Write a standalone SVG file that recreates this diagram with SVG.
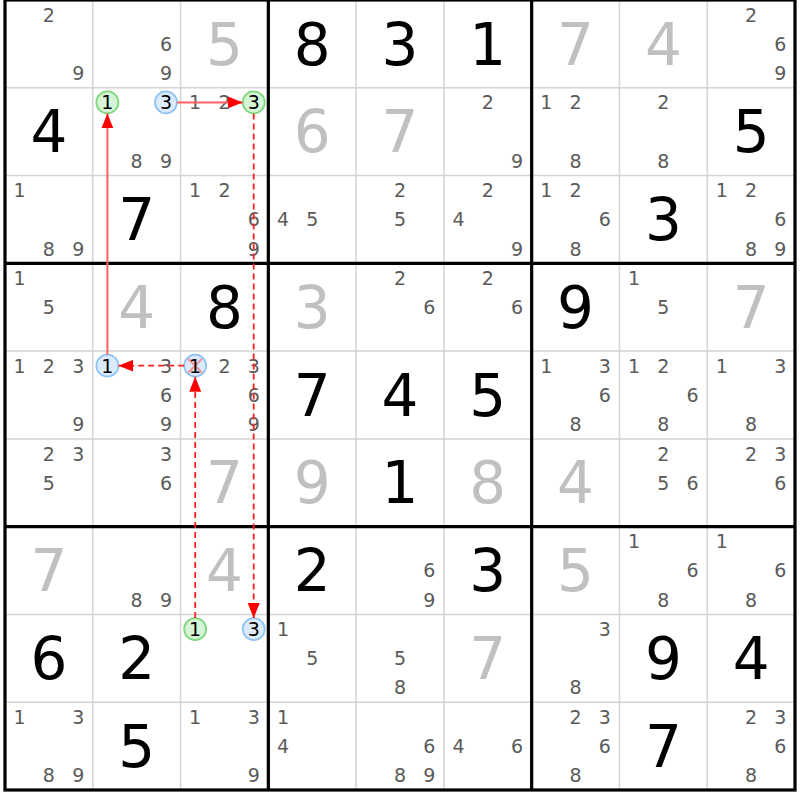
<svg xmlns="http://www.w3.org/2000/svg" width="800" height="800" viewBox="0 0 800 800">
<style>
text{font-family:"DejaVu Sans","Liberation Sans",sans-serif;text-anchor:middle}
.c{font-size:19px;fill:#5a5a5a}
.k{font-size:19px;fill:#000}
.g{font-size:58px;fill:#000}
.s{font-size:58px;fill:#c0c0c0}
.thin{stroke:#d4d4d4;stroke-width:1.5}
.thick{stroke:#000;stroke-width:3.2;fill:none}
.cg{fill:#d6f5d6;stroke:#80d880;stroke-width:1.8}
.cb{fill:#dcebfc;stroke:#90c4f4;stroke-width:1.8}
.x{stroke:#ff7070;stroke-width:2;stroke-opacity:0.7}
.ln{stroke:#ff6060;stroke-width:2;fill:none}
.dl{stroke:#ff2020;stroke-width:1.8;fill:none;stroke-dasharray:6,4}
</style>
<defs>
<marker id="ah" markerUnits="userSpaceOnUse" markerWidth="15" markerHeight="12" refX="15" refY="6" orient="auto">
<path d="M0,0 L15,6 L0,12 z" fill="#ff0000"/>
</marker>
</defs>
<rect x="0" y="0" width="800" height="800" fill="#fff"/>
<g id="grid">
<path class="thin" d="M92.78,0V790M180.56,0V790M356.11,0V790M443.89,0V790M619.44,0V790M707.22,0V790M5,87.78H795M5,175.56H795M5,351.11H795M5,438.89H795M5,614.44H795M5,702.22H795"/>
<path class="thick" d="M268.33,0V790M531.67,0V790M5,263.33H795M5,526.67H795"/>
<rect class="thick" x="5" y="0" width="790" height="790"/>
</g>
<g id="cells">
<g id="r1c1" transform="translate(5,0)"><text class="c" x="43.9" y="21.7">2</text><text class="c" x="73.2" y="80">9</text></g>
<g id="r1c2" transform="translate(92.78,0)"><text class="c" x="73.2" y="50.8">6</text><text class="c" x="73.2" y="80">9</text></g>
<g id="r1c3" transform="translate(180.56,0)"><text class="s" x="43.9" y="64.5">5</text></g>
<g id="r1c4" transform="translate(268.33,0)"><text class="g" x="43.9" y="64.5">8</text></g>
<g id="r1c5" transform="translate(356.11,0)"><text class="g" x="43.9" y="64.5">3</text></g>
<g id="r1c6" transform="translate(443.89,0)"><text class="g" x="43.9" y="64.5">1</text></g>
<g id="r1c7" transform="translate(531.67,0)"><text class="s" x="43.9" y="64.5">7</text></g>
<g id="r1c8" transform="translate(619.44,0)"><text class="s" x="43.9" y="64.5">4</text></g>
<g id="r1c9" transform="translate(707.22,0)"><text class="c" x="43.9" y="21.7">2</text><text class="c" x="73.2" y="50.8">6</text><text class="c" x="73.2" y="80">9</text></g>

<g id="r2c1" transform="translate(5,87.78)"><text class="g" x="43.9" y="64.5">4</text></g>
<g id="r2c2" transform="translate(92.78,87.78)"><circle class="cg" cx="14.6" cy="14.6" r="11"/><text class="k" x="14.6" y="21.4">1</text><circle class="cb" cx="73.2" cy="14.6" r="11"/><text class="k" x="73.2" y="21.4">3</text><text class="c" x="43.9" y="80">8</text><text class="c" x="73.2" y="80">9</text></g>
<g id="r2c3" transform="translate(180.56,87.78)"><text class="c" x="14.6" y="21.7">1</text><text class="c" x="43.9" y="21.7">2</text><circle class="cg" cx="73.2" cy="14.6" r="11"/><text class="k" x="73.2" y="21.4">3</text></g>
<g id="r2c4" transform="translate(268.33,87.78)"><text class="s" x="43.9" y="64.5">6</text></g>
<g id="r2c5" transform="translate(356.11,87.78)"><text class="s" x="43.9" y="64.5">7</text></g>
<g id="r2c6" transform="translate(443.89,87.78)"><text class="c" x="43.9" y="21.7">2</text><text class="c" x="73.2" y="80">9</text></g>
<g id="r2c7" transform="translate(531.67,87.78)"><text class="c" x="14.6" y="21.7">1</text><text class="c" x="43.9" y="21.7">2</text><text class="c" x="43.9" y="80">8</text></g>
<g id="r2c8" transform="translate(619.44,87.78)"><text class="c" x="43.9" y="21.7">2</text><text class="c" x="43.9" y="80">8</text></g>
<g id="r2c9" transform="translate(707.22,87.78)"><text class="g" x="43.9" y="64.5">5</text></g>

<g id="r3c1" transform="translate(5,175.56)"><text class="c" x="14.6" y="21.7">1</text><text class="c" x="43.9" y="80">8</text><text class="c" x="73.2" y="80">9</text></g>
<g id="r3c2" transform="translate(92.78,175.56)"><text class="g" x="43.9" y="64.5">7</text></g>
<g id="r3c3" transform="translate(180.56,175.56)"><text class="c" x="14.6" y="21.7">1</text><text class="c" x="43.9" y="21.7">2</text><text class="c" x="73.2" y="50.8">6</text><text class="c" x="73.2" y="80">9</text></g>
<g id="r3c4" transform="translate(268.33,175.56)"><text class="c" x="14.6" y="50.8">4</text><text class="c" x="43.9" y="50.8">5</text></g>
<g id="r3c5" transform="translate(356.11,175.56)"><text class="c" x="43.9" y="21.7">2</text><text class="c" x="43.9" y="50.8">5</text></g>
<g id="r3c6" transform="translate(443.89,175.56)"><text class="c" x="43.9" y="21.7">2</text><text class="c" x="14.6" y="50.8">4</text><text class="c" x="73.2" y="80">9</text></g>
<g id="r3c7" transform="translate(531.67,175.56)"><text class="c" x="14.6" y="21.7">1</text><text class="c" x="43.9" y="21.7">2</text><text class="c" x="73.2" y="50.8">6</text><text class="c" x="43.9" y="80">8</text></g>
<g id="r3c8" transform="translate(619.44,175.56)"><text class="g" x="43.9" y="64.5">3</text></g>
<g id="r3c9" transform="translate(707.22,175.56)"><text class="c" x="14.6" y="21.7">1</text><text class="c" x="43.9" y="21.7">2</text><text class="c" x="73.2" y="50.8">6</text><text class="c" x="43.9" y="80">8</text><text class="c" x="73.2" y="80">9</text></g>

<g id="r4c1" transform="translate(5,263.33)"><text class="c" x="14.6" y="21.7">1</text><text class="c" x="43.9" y="50.8">5</text></g>
<g id="r4c2" transform="translate(92.78,263.33)"><text class="s" x="43.9" y="64.5">4</text></g>
<g id="r4c3" transform="translate(180.56,263.33)"><text class="g" x="43.9" y="64.5">8</text></g>
<g id="r4c4" transform="translate(268.33,263.33)"><text class="s" x="43.9" y="64.5">3</text></g>
<g id="r4c5" transform="translate(356.11,263.33)"><text class="c" x="43.9" y="21.7">2</text><text class="c" x="73.2" y="50.8">6</text></g>
<g id="r4c6" transform="translate(443.89,263.33)"><text class="c" x="43.9" y="21.7">2</text><text class="c" x="73.2" y="50.8">6</text></g>
<g id="r4c7" transform="translate(531.67,263.33)"><text class="g" x="43.9" y="64.5">9</text></g>
<g id="r4c8" transform="translate(619.44,263.33)"><text class="c" x="14.6" y="21.7">1</text><text class="c" x="43.9" y="50.8">5</text></g>
<g id="r4c9" transform="translate(707.22,263.33)"><text class="s" x="43.9" y="64.5">7</text></g>

<g id="r5c1" transform="translate(5,351.11)"><text class="c" x="14.6" y="21.7">1</text><text class="c" x="43.9" y="21.7">2</text><text class="c" x="73.2" y="21.7">3</text><text class="c" x="73.2" y="80">9</text></g>
<g id="r5c2" transform="translate(92.78,351.11)"><circle class="cb" cx="14.6" cy="14.6" r="11"/><text class="k" x="14.6" y="21.4">1</text><text class="c" x="73.2" y="21.7">3</text><text class="c" x="73.2" y="50.8">6</text><text class="c" x="73.2" y="80">9</text></g>
<g id="r5c3" transform="translate(180.56,351.11)"><circle class="cb" cx="14.6" cy="14.6" r="11"/><path class="x" d="M7.6,7.6L21.6,21.6M21.6,7.6L7.6,21.6"/><text class="k" x="14.6" y="21.4">1</text><text class="c" x="43.9" y="21.7">2</text><text class="c" x="73.2" y="21.7">3</text><text class="c" x="73.2" y="50.8">6</text><text class="c" x="73.2" y="80">9</text></g>
<g id="r5c4" transform="translate(268.33,351.11)"><text class="g" x="43.9" y="64.5">7</text></g>
<g id="r5c5" transform="translate(356.11,351.11)"><text class="g" x="43.9" y="64.5">4</text></g>
<g id="r5c6" transform="translate(443.89,351.11)"><text class="g" x="43.9" y="64.5">5</text></g>
<g id="r5c7" transform="translate(531.67,351.11)"><text class="c" x="14.6" y="21.7">1</text><text class="c" x="73.2" y="21.7">3</text><text class="c" x="73.2" y="50.8">6</text><text class="c" x="43.9" y="80">8</text></g>
<g id="r5c8" transform="translate(619.44,351.11)"><text class="c" x="14.6" y="21.7">1</text><text class="c" x="43.9" y="21.7">2</text><text class="c" x="73.2" y="50.8">6</text><text class="c" x="43.9" y="80">8</text></g>
<g id="r5c9" transform="translate(707.22,351.11)"><text class="c" x="14.6" y="21.7">1</text><text class="c" x="73.2" y="21.7">3</text><text class="c" x="43.9" y="80">8</text></g>

<g id="r6c1" transform="translate(5,438.89)"><text class="c" x="43.9" y="21.7">2</text><text class="c" x="73.2" y="21.7">3</text><text class="c" x="43.9" y="50.8">5</text></g>
<g id="r6c2" transform="translate(92.78,438.89)"><text class="c" x="73.2" y="21.7">3</text><text class="c" x="73.2" y="50.8">6</text></g>
<g id="r6c3" transform="translate(180.56,438.89)"><text class="s" x="43.9" y="64.5">7</text></g>
<g id="r6c4" transform="translate(268.33,438.89)"><text class="s" x="43.9" y="64.5">9</text></g>
<g id="r6c5" transform="translate(356.11,438.89)"><text class="g" x="43.9" y="64.5">1</text></g>
<g id="r6c6" transform="translate(443.89,438.89)"><text class="s" x="43.9" y="64.5">8</text></g>
<g id="r6c7" transform="translate(531.67,438.89)"><text class="s" x="43.9" y="64.5">4</text></g>
<g id="r6c8" transform="translate(619.44,438.89)"><text class="c" x="43.9" y="21.7">2</text><text class="c" x="43.9" y="50.8">5</text><text class="c" x="73.2" y="50.8">6</text></g>
<g id="r6c9" transform="translate(707.22,438.89)"><text class="c" x="43.9" y="21.7">2</text><text class="c" x="73.2" y="21.7">3</text><text class="c" x="73.2" y="50.8">6</text></g>

<g id="r7c1" transform="translate(5,526.67)"><text class="s" x="43.9" y="64.5">7</text></g>
<g id="r7c2" transform="translate(92.78,526.67)"><text class="c" x="43.9" y="80">8</text><text class="c" x="73.2" y="80">9</text></g>
<g id="r7c3" transform="translate(180.56,526.67)"><text class="s" x="43.9" y="64.5">4</text></g>
<g id="r7c4" transform="translate(268.33,526.67)"><text class="g" x="43.9" y="64.5">2</text></g>
<g id="r7c5" transform="translate(356.11,526.67)"><text class="c" x="73.2" y="50.8">6</text><text class="c" x="73.2" y="80">9</text></g>
<g id="r7c6" transform="translate(443.89,526.67)"><text class="g" x="43.9" y="64.5">3</text></g>
<g id="r7c7" transform="translate(531.67,526.67)"><text class="s" x="43.9" y="64.5">5</text></g>
<g id="r7c8" transform="translate(619.44,526.67)"><text class="c" x="14.6" y="21.7">1</text><text class="c" x="73.2" y="50.8">6</text><text class="c" x="43.9" y="80">8</text></g>
<g id="r7c9" transform="translate(707.22,526.67)"><text class="c" x="14.6" y="21.7">1</text><text class="c" x="73.2" y="50.8">6</text><text class="c" x="43.9" y="80">8</text></g>

<g id="r8c1" transform="translate(5,614.44)"><text class="g" x="43.9" y="64.5">6</text></g>
<g id="r8c2" transform="translate(92.78,614.44)"><text class="g" x="43.9" y="64.5">2</text></g>
<g id="r8c3" transform="translate(180.56,614.44)"><circle class="cg" cx="14.6" cy="14.6" r="11"/><text class="k" x="14.6" y="21.4">1</text><circle class="cb" cx="73.2" cy="14.6" r="11"/><text class="k" x="73.2" y="21.4">3</text></g>
<g id="r8c4" transform="translate(268.33,614.44)"><text class="c" x="14.6" y="21.7">1</text><text class="c" x="43.9" y="50.8">5</text></g>
<g id="r8c5" transform="translate(356.11,614.44)"><text class="c" x="43.9" y="50.8">5</text><text class="c" x="43.9" y="80">8</text></g>
<g id="r8c6" transform="translate(443.89,614.44)"><text class="s" x="43.9" y="64.5">7</text></g>
<g id="r8c7" transform="translate(531.67,614.44)"><text class="c" x="73.2" y="21.7">3</text><text class="c" x="43.9" y="80">8</text></g>
<g id="r8c8" transform="translate(619.44,614.44)"><text class="g" x="43.9" y="64.5">9</text></g>
<g id="r8c9" transform="translate(707.22,614.44)"><text class="g" x="43.9" y="64.5">4</text></g>

<g id="r9c1" transform="translate(5,702.22)"><text class="c" x="14.6" y="21.7">1</text><text class="c" x="73.2" y="21.7">3</text><text class="c" x="43.9" y="80">8</text><text class="c" x="73.2" y="80">9</text></g>
<g id="r9c2" transform="translate(92.78,702.22)"><text class="g" x="43.9" y="64.5">5</text></g>
<g id="r9c3" transform="translate(180.56,702.22)"><text class="c" x="14.6" y="21.7">1</text><text class="c" x="73.2" y="21.7">3</text><text class="c" x="73.2" y="80">9</text></g>
<g id="r9c4" transform="translate(268.33,702.22)"><text class="c" x="14.6" y="21.7">1</text><text class="c" x="14.6" y="50.8">4</text></g>
<g id="r9c5" transform="translate(356.11,702.22)"><text class="c" x="73.2" y="50.8">6</text><text class="c" x="43.9" y="80">8</text><text class="c" x="73.2" y="80">9</text></g>
<g id="r9c6" transform="translate(443.89,702.22)"><text class="c" x="14.6" y="50.8">4</text><text class="c" x="73.2" y="50.8">6</text></g>
<g id="r9c7" transform="translate(531.67,702.22)"><text class="c" x="43.9" y="21.7">2</text><text class="c" x="73.2" y="21.7">3</text><text class="c" x="73.2" y="50.8">6</text><text class="c" x="43.9" y="80">8</text></g>
<g id="r9c8" transform="translate(619.44,702.22)"><text class="g" x="43.9" y="64.5">7</text></g>
<g id="r9c9" transform="translate(707.22,702.22)"><text class="c" x="43.9" y="21.7">2</text><text class="c" x="73.2" y="21.7">3</text><text class="c" x="73.2" y="50.8">6</text><text class="c" x="43.9" y="80">8</text></g>
</g>
<g id="connectors">
<line class="ln" x1="107.4" y1="354.7" x2="107.4" y2="113.4" marker-end="url(#ah)"/>
<line class="ln" x1="176.9" y1="102.4" x2="242.7" y2="102.4" marker-end="url(#ah)"/>
<line class="dl" x1="253.7" y1="113.4" x2="253.7" y2="618.1" marker-end="url(#ah)"/>
<line class="dl" x1="195.2" y1="618.1" x2="195.2" y2="376.7" marker-end="url(#ah)"/>
<line class="dl" x1="184.2" y1="365.7" x2="118.4" y2="365.7" marker-end="url(#ah)"/>
</g>
</svg>
